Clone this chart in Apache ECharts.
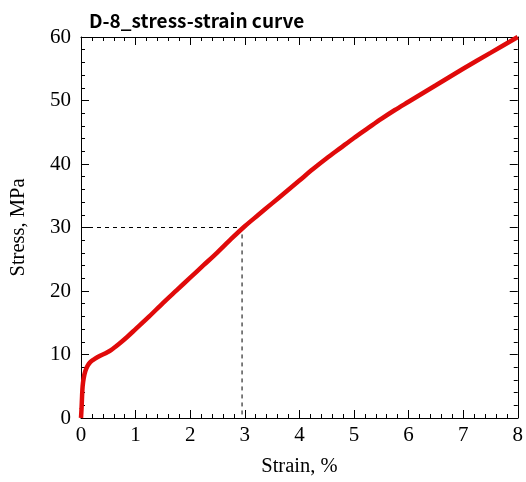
<!DOCTYPE html>
<html><head><meta charset="utf-8">
<script src="https://cdn.jsdelivr.net/npm/echarts@6/dist/echarts.min.js"></script>
<style>html,body{margin:0;padding:0;background:#fff}#c{width:526px;height:482px}</style>
</head><body><div id="c"></div>
<script>
var titleText = 'D-8_stress-strain curve';
var xName = 'Strain, %';
var yName = 'Stress, MPa';
var strain = [0, 0.01, 0.02, 0.03, 0.05, 0.08, 0.12, 0.17, 0.25, 0.35, 0.45, 0.55, 0.7, 0.85, 1.0, 1.25, 1.5, 1.75, 2.0, 2.25, 2.5, 2.75, 3.0, 3.25, 3.5, 3.75, 4.0, 4.25, 4.5, 4.75, 5.0, 5.25, 5.5, 5.75, 6.0, 6.5, 7.0, 7.5, 8.0];
var stress = [0, 1.5, 3.5, 5.0, 6.3, 7.4, 8.2, 8.8, 9.3, 9.8, 10.2, 10.7, 11.7, 12.8, 14.0, 16.0, 18.1, 20.1, 22.1, 24.1, 26.1, 28.2, 30.2, 32.0, 33.8, 35.6, 37.4, 39.2, 40.9, 42.5, 44.1, 45.6, 47.1, 48.5, 49.8, 52.4, 55.0, 57.5, 60.0];
var refStrain = [0, 2.95, 2.95];
var refStress = [30, 30, 0];

var curve = strain.map(function(v,i){return [v, stress[i]];});
var ref = refStrain.map(function(v,i){return [v, refStress[i]];});

var chart = echarts.init(document.getElementById('c'), null, {renderer:'canvas'});
var axisLine = {show:true, onZero:false, lineStyle:{color:'#000', width:1}};
var tick = {show:true, inside:true, length:8, lineStyle:{color:'#000'}};
var minor = {show:true, splitNumber:5, length:4, lineStyle:{color:'#000'}};
var lbl = {fontFamily:'Liberation Serif', fontSize:21, color:'#000'};
var nameStyle = {fontFamily:'Liberation Serif', fontSize:20.5, color:'#000'};
chart.setOption({
  animation:false,
  title:{text:titleText, left:84, top:6, textStyle:{fontFamily:'Noto Sans CJK JP', fontWeight:'bold', fontSize:19, color:'#000'}},
  grid:{left:81, right:6, top:37, bottom:63, containLabel:false},
  xAxis:[
    {type:'value', min:0, max:8, interval:1, position:'bottom', name:xName, nameLocation:'middle', nameGap:38,
     nameTextStyle:nameStyle,
     axisLine:axisLine, axisTick:tick, minorTick:minor, splitLine:{show:false},
     axisLabel:Object.assign({margin:7}, lbl)},
    {type:'value', min:0, max:8, interval:1, position:'top',
     axisLine:axisLine, axisTick:tick, minorTick:minor, splitLine:{show:false}, axisLabel:{show:false}}
  ],
  yAxis:[
    {type:'value', min:0, max:60, interval:10, position:'left', name:yName, nameLocation:'middle', nameGap:52,
     nameTextStyle:nameStyle,
     axisLine:axisLine, axisTick:tick, minorTick:minor, splitLine:{show:false},
     axisLabel:Object.assign({margin:10}, lbl)},
    {type:'value', min:0, max:60, interval:10, position:'right',
     axisLine:axisLine, axisTick:tick, minorTick:minor, splitLine:{show:false}, axisLabel:{show:false}}
  ],
  series:[
    {type:'line', data:ref, symbol:'none', lineStyle:{color:'#000', width:1, type:[4,4]}, z:1},
    {type:'line', data:curve, symbol:'none', smooth:0.3, lineStyle:{color:'#e00a0a', width:4.5}, z:2}
  ]
});
</script></body></html>
